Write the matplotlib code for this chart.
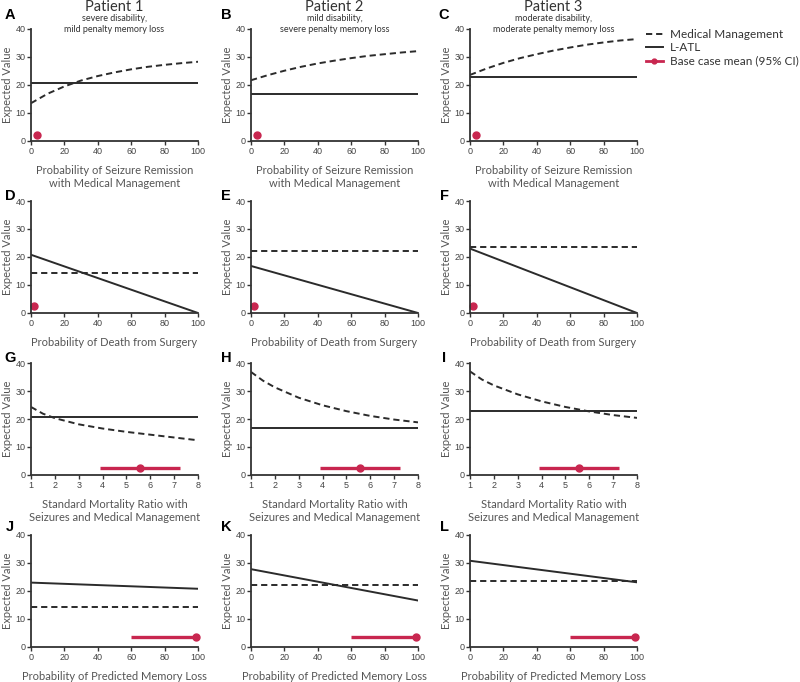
""" Sensitivity analysis panels, expected value vs. model parameters """

import numpy as np
import matplotlib
matplotlib.use('Agg')
import matplotlib.pyplot as plt
from matplotlib.lines import Line2D

plt.rcParams['font.family'] = ['Lato', 'DejaVu Sans']

# ---- data ----
patients = ['Patient 1', 'Patient 2', 'Patient 3']
subtitles = ['severe disability,\nmild penalty memory loss',
             'mild disability,\nsevere penalty memory loss',
             'moderate disability,\nmoderate penalty memory loss']
letters = ['ABC', 'DEF', 'GHI', 'JKL']

pct = [0, 10, 20, 30, 40, 50, 60, 70, 80, 90, 100]
smr = [1, 1.5, 2, 3, 4, 5, 6, 7, 8]

# row 1: probability of seizure remission with medical management
mm_remission = [
    [13.5, 16.9, 19.5, 21.6, 23.2, 24.5, 25.6, 26.5, 27.2, 27.8, 28.3],
    [21.7, 23.5, 25.1, 26.5, 27.7, 28.7, 29.6, 30.4, 31.0, 31.6, 32.1],
    [23.6, 25.9, 27.9, 29.6, 31.0, 32.3, 33.4, 34.4, 35.2, 35.9, 36.4],
]
latl_base = [20.8, 16.8, 23.0]
mm_base = [14.4, 22.1, 23.7]

# row 2: probability of death from surgery (L-ATL linear to 0 at 100%)
death_x = [0, 100]
latl_death_end = [0, 0, 0]

# row 3: standard mortality ratio
mm_smr = [
    [24.3, 21.9, 20.3, 18.1, 16.6, 15.4, 14.4, 13.4, 12.4],
    [36.8, 33.7, 31.3, 27.6, 24.9, 22.8, 21.1, 19.8, 18.8],
    [37.0, 34.1, 32.0, 28.8, 26.3, 24.3, 22.7, 21.4, 20.4],
]

# row 4: probability of predicted memory loss
mem_x = [0, 100]
latl_mem = [[23.0, 20.8], [27.8, 16.6], [30.8, 23.1]]

# base case mean and 95% CI, per row
base_x = [3.4, 2.0, 5.55, 99.0]
base_ci = [None, None, [3.9, 7.25], [60, 100]]
base_y = [2.3, 2.6, 2.6, 3.5]

xlabels = ['Probability of Seizure Remission\nwith Medical Management',
           'Probability of Death from Surgery',
           'Standard Mortality Ratio with\nSeizures and Medical Management',
           'Probability of Predicted Memory Loss']

RED = '#c8264f'
INK = '#2b2b2b'
GREY = '#555555'
DASH = (0, (3.2, 2.0))

W, H = 800, 682
fig = plt.figure(figsize=(W / 100, H / 100), dpi=100)

col_left = [31, 251, 470]
row_bottom = [141, 313, 475, 647]
aw, ah = 167, 112


def style_axes(ax, xlim, xticks):
    ax.set_xlim(*xlim)
    ax.set_ylim(0, 40)
    ax.set_xticks(xticks)
    ax.set_yticks([0, 10, 20, 30, 40])
    for s in ['top', 'right']:
        ax.spines[s].set_visible(False)
    for s in ['left', 'bottom']:
        ax.spines[s].set_linewidth(1.3)
        ax.spines[s].set_color('#333333')
    ax.tick_params(direction='out', length=3, width=1, color='#333333',
                   labelsize=6.5, labelcolor='#444444', pad=1)
    for lab in ax.get_xticklabels() + ax.get_yticklabels():
        lab.set_family(['Liberation Sans', 'DejaVu Sans'])
    ax.set_ylabel('Expected Value', fontsize=8, color=GREY)
    ax.yaxis.set_label_coords(-(31 - 13) / aw, 0.5)
    ax.patch.set_alpha(0)


for r in range(4):
    for c in range(3):
        ax = fig.add_axes([col_left[c] / W, 1 - row_bottom[r] / H, aw / W, ah / H])
        if r == 0:
            ax.plot(pct, mm_remission[c], color=INK, lw=1.4, ls=DASH)
            ax.plot([0, 100], [latl_base[c]] * 2, color=INK, lw=1.4)
            style_axes(ax, (0, 100), range(0, 101, 20))
        elif r == 1:
            ax.plot(death_x, [mm_base[c]] * 2, color=INK, lw=1.4, ls=DASH)
            ax.plot(death_x, [latl_base[c], latl_death_end[c]], color=INK, lw=1.4)
            style_axes(ax, (0, 100), range(0, 101, 20))
        elif r == 2:
            ax.plot(smr, mm_smr[c], color=INK, lw=1.4, ls=DASH)
            ax.plot([1, 8], [latl_base[c]] * 2, color=INK, lw=1.4)
            style_axes(ax, (1, 8), range(1, 9))
        else:
            ax.plot(mem_x, [mm_base[c]] * 2, color=INK, lw=1.4, ls=DASH)
            ax.plot(mem_x, latl_mem[c], color=INK, lw=1.4)
            style_axes(ax, (0, 100), range(0, 101, 20))

        if base_ci[r] is not None:
            ax.plot(base_ci[r], [base_y[r]] * 2, color=RED, lw=2.4,
                    solid_capstyle='butt', clip_on=False)
        ax.plot([base_x[r]], [base_y[r]], 'o', color=RED, ms=5, clip_on=False)

        ax.set_xlabel(xlabels[r], fontsize=8, color=GREY, labelpad=6.5,
                      linespacing=1.3)

        # panel letters
        lx = [10, 226, 444][c]
        ly = [15, 196, 358, 527][r]
        fig.text(lx / W, 1 - ly / H, letters[r][c], fontsize=10.5,
                 fontweight='bold', family=['Liberation Sans', 'DejaVu Sans'],
                 ha='center', va='center', color='black')

# patient headers
for c in range(3):
    cx = (col_left[c] + aw / 2) / W
    fig.text(cx, 1 - 7 / H, patients[c], fontsize=10.5, color='#333333',
             ha='center', va='center')
    fig.text(cx, 1 - 24 / H, subtitles[c], fontsize=6.5, color='#333333',
             ha='center', va='center', linespacing=1.3)

handles = [Line2D([], [], color=INK, lw=1.4, ls=DASH),
           Line2D([], [], color=INK, lw=1.4),
           Line2D([], [], color=RED, lw=2, marker='o', ms=3.5)]
labels = ['Medical Management', 'L-ATL', 'Base case mean (95% CI)']
fig.legend(handles, labels, loc='upper left', bbox_to_anchor=(646 / W, 1 - 29 / H),
           frameon=False, fontsize=8.5, handlelength=1.4, handletextpad=0.6,
           labelspacing=0.2, borderpad=0, borderaxespad=0, labelcolor='#333333')

fig.savefig('out.png', dpi=100)
